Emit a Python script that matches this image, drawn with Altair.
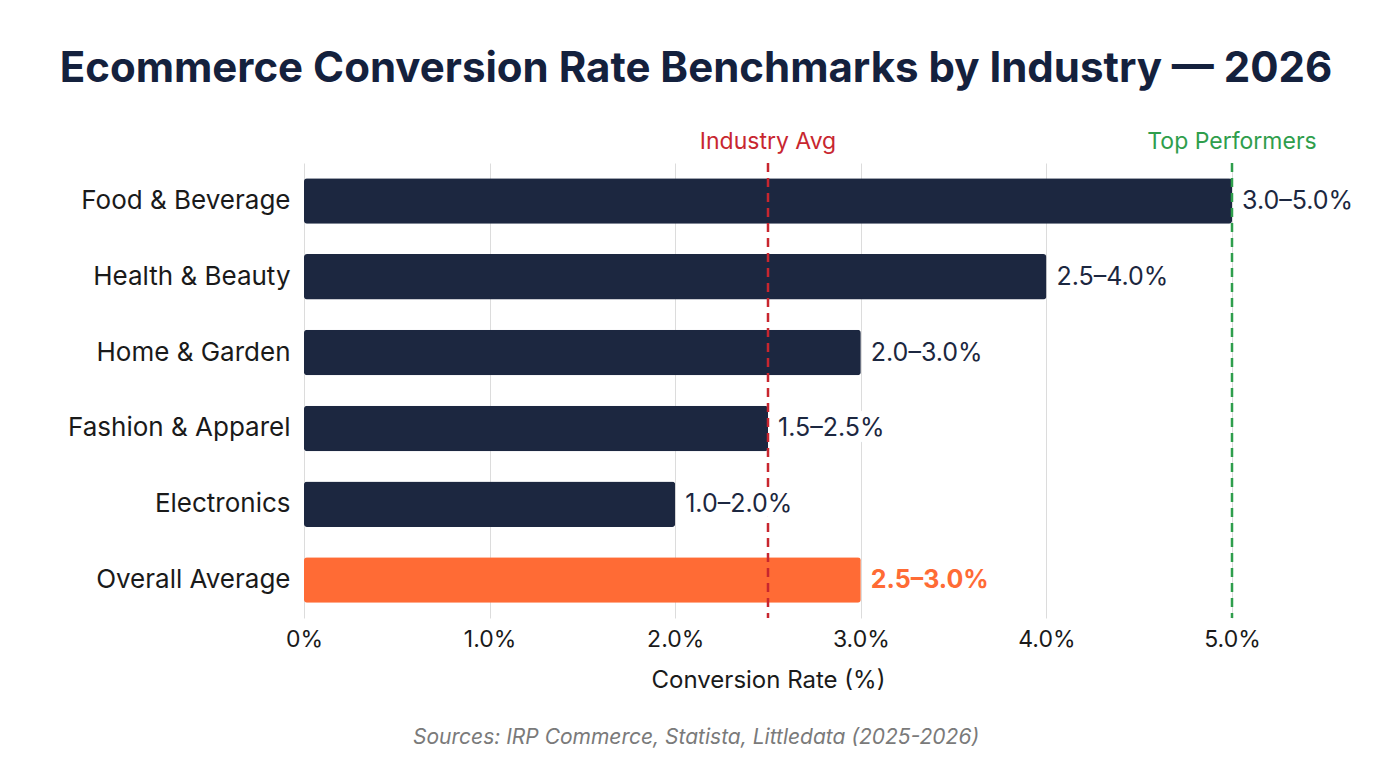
import altair as alt
import pandas as pd

# ---- data ----
industries = ["Food & Beverage", "Health & Beauty", "Home & Garden",
              "Fashion & Apparel", "Electronics", "Overall Average"]
low = [3.0, 2.5, 2.0, 1.5, 1.0, 2.5]
high = [5.0, 4.0, 3.0, 2.5, 2.0, 3.0]
kind = ["industry", "industry", "industry", "industry", "industry", "overall"]
ref_values = [2.5, 5.0]
ref_labels = ["Industry Avg", "Top Performers"]
ref_colors = ["#c8262f", "#2f9e4c"]
x_ticks = [0, 1, 2, 3, 4, 5]
title_text = "Ecommerce Conversion Rate Benchmarks by Industry \u2014 2026"
x_title = "Conversion Rate (%)"
source_text = "Sources: IRP Commerce, Statista, Littledata (2025-2026)"

df = pd.DataFrame({"industry": industries, "low": low, "high": high, "kind": kind})
df["label"] = [f"{l:.1f}\u2013{h:.1f}%" for l, h in zip(low, high)]
refs = pd.DataFrame({"value": ref_values, "label": ref_labels, "color": ref_colors})
src = pd.DataFrame({"t": [source_text]})

NAVY = "#1c2740"
ORANGE = "#ff6b35"
FONT = "Inter"
W, H = 928, 455

xscale = alt.Scale(domain=[0, 5], nice=False)
yscale = alt.Scale(paddingInner=0.4, paddingOuter=0.2)

x_axis = alt.Axis(values=x_ticks,
                  labelExpr="datum.value == 0 ? '0%' : format(datum.value, '.1f') + '%'",
                  labelFontSize=23, labelColor="#1a1a1a", labelFont=FONT, labelPadding=10,
                  labelFlush=False,
                  ticks=False, domain=False, grid=True, gridColor="#dcdcdc", gridWidth=1,
                  titleFontSize=24, titleFont=FONT, titleFontWeight="normal",
                  titleColor="#1a1a1a", titlePadding=17)
y_axis = alt.Axis(labelFontSize=26, labelColor="#1a1a1a", labelFont=FONT, labelPadding=14,
                  labelLimit=0, ticks=False, domain=False, grid=False)

base = alt.Chart(df)
Y = alt.Y("industry:N", sort=industries, title=None, scale=yscale, axis=y_axis)

bars = base.mark_bar(cornerRadius=3).encode(
    x=alt.X("high:Q", scale=xscale, title=x_title, axis=x_axis),
    y=Y,
    color=alt.Color("kind:N", scale=alt.Scale(domain=["industry", "overall"],
                                              range=[NAVY, ORANGE]), legend=None),
)

XL = alt.X("high:Q", scale=xscale, title=x_title)
ind = base.transform_filter("datum.kind == 'industry'")

halo = ind.mark_text(align="left", baseline="middle", dx=10, fontSize=25, font=FONT,
                     stroke="white", strokeWidth=14, strokeJoin="round", fill="white").encode(
    x=XL, y=Y, text="label:N")

labels_ind = ind.mark_text(
    align="left", baseline="middle", dx=10, fontSize=25, font=FONT, color=NAVY).encode(
    x=XL, y=Y, text="label:N")

labels_all = base.transform_filter("datum.kind == 'overall'").mark_text(
    align="left", baseline="middle", dx=10, fontSize=25, font=FONT, fontWeight="bold",
    color=ORANGE).encode(x=XL, y=Y, text="label:N")

XR = alt.X("value:Q", scale=xscale, title=x_title)
rules = alt.Chart(refs).mark_rule(strokeDash=[9, 6], strokeWidth=2.5).encode(
    x=XR, color=alt.Color("color:N", scale=None))

ref_text = alt.Chart(refs).mark_text(fontSize=23, font=FONT, baseline="middle", align="center").encode(
    x=XR, y=alt.value(-21), text="label:N", color=alt.Color("color:N", scale=None))

source = alt.Chart(src).mark_text(fontSize=21, font=FONT, fontStyle="italic", color="#7a7a7a",
                                  align="center", baseline="middle").encode(
    text="t:N", x=alt.value(392), y=alt.value(575))

chart = alt.layer(bars, rules, halo, labels_ind, labels_all, ref_text, source).properties(
    width=W, height=H,
    title=alt.TitleParams(title_text, fontSize=42, font=FONT, fontWeight="bold",
                          color="#14213d", anchor="middle", dx=-72, offset=40),
    autosize=alt.AutoSizeParams(type="none"),
    padding={"left": 296, "top": 155, "right": 152, "bottom": 142},
).configure(background="white").configure_view(stroke=None)

chart.save("out.html", embed_options={"renderer": "svg", "actions": False})
